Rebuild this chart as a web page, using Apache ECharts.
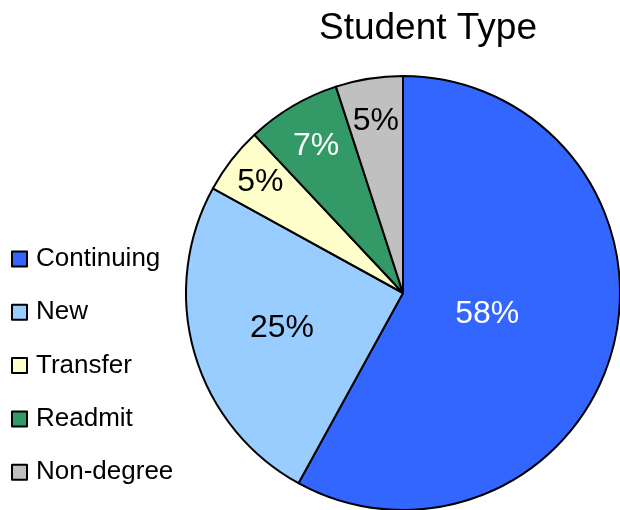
<!DOCTYPE html>
<html><head><meta charset="utf-8">
<script src="https://cdn.jsdelivr.net/npm/echarts@6/dist/echarts.min.js"></script>
<style>html,body{margin:0;padding:0;background:#fff}#c{width:620px;height:510px}</style>
</head><body><div id="c"></div>
<script>
const categories = ['Continuing', 'New', 'Transfer', 'Readmit', 'Non-degree'];
const values = [58, 25, 5, 7, 5];
const colors = ['#3366FF', '#99CCFF', '#FFFFCC', '#339966', '#C0C0C0'];
const labelColors = ['#fff', '#000', '#000', '#fff', '#000'];
const labelRadiusFactor = [0.78, 1.13, 1.62, 1.53, 1.56];

const cx = 403, cy = 293, R = 217;
const chart = echarts.init(document.getElementById('c'));
chart.setOption({
  animation: false,
  title: { text: 'Student Type', left: 423, top: 5, textAlign: 'center',
    textStyle: { fontFamily: 'Liberation Sans', fontSize: 37, fontWeight: 'normal', color: '#000' } },
  legend: {
    orient: 'vertical', left: 11, top: 246, padding: 0, itemWidth: 15, itemHeight: 15, itemGap: 27.3,
    icon: 'rect',
    itemStyle: { borderColor: '#000', borderWidth: 2 },
    textStyle: { fontFamily: 'Liberation Sans', fontSize: 26, lineHeight: 26, color: '#000', padding: [0, 0, 0, 4] },
    data: categories
  },
  series: [{
    type: 'pie', center: [cx, cy], radius: R, startAngle: 90, clockwise: true,
    itemStyle: { borderColor: '#000', borderWidth: 2 },
    label: { show: true, position: 'inside', formatter: '{c}%',
      fontFamily: 'Liberation Sans', fontSize: 32 },
    labelLayout: function (p) {
      const r = p.labelRect;
      const lx = r.x + r.width / 2, ly = r.y + r.height / 2;
      const f = labelRadiusFactor[p.dataIndex];
      return { x: cx + (lx - cx) * f, y: cy + (ly - cy) * f, align: 'center', verticalAlign: 'middle' };
    },
    data: categories.map((n, i) => ({ name: n, value: values[i],
      itemStyle: { color: colors[i] }, label: { color: labelColors[i] } }))
  }]
});
</script></body></html>
